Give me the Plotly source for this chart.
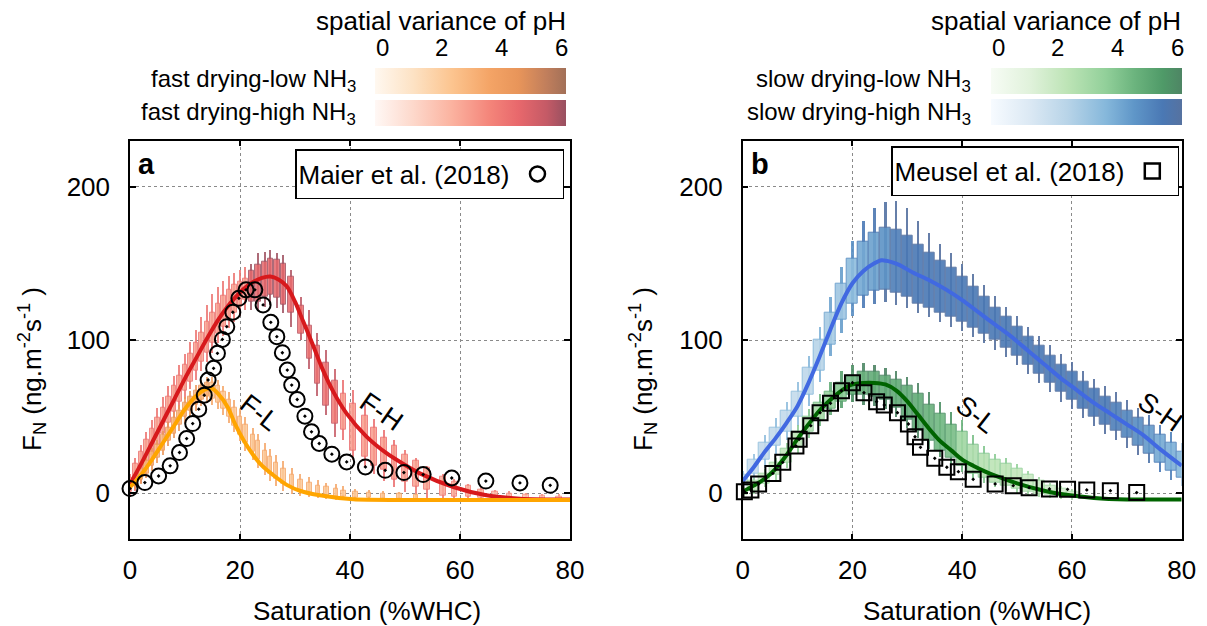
import plotly.graph_objects as go
from plotly.colors import sample_colorscale

W, H = 1207, 626
FONT = "Liberation Sans, Arial, Helvetica, sans-serif"

# ---------------- Panel a : fast drying ----------------
maier_x = [0, 2.7, 5.2, 7.3, 9.0, 10.3, 11.4, 12.5, 13.5, 14.2, 15.2, 15.9, 16.8, 17.6, 18.7, 19.8,
           21.1, 22.7, 24.2, 25.6, 26.7, 27.7, 28.6, 29.4, 30.4, 31.8, 33.0, 34.4, 36.7, 39.4, 42.8,
           46.4, 49.8, 53.3, 58.5, 64.7, 70.9, 76.4]
maier_y = [3.1, 7.0, 11.3, 17.9, 26.6, 35.7, 45.5, 54.9, 64.0, 73.9, 81.5, 91.3, 100.4, 108.7, 118.1,
           127.2, 132.7, 132.7, 122.9, 111.5, 102.2, 91.7, 80.4, 70.6, 61.2, 50.3, 40.1, 32.5, 25.5,
           20.5, 17.2, 15.0, 13.5, 12.2, 10.0, 8.0, 6.8, 5.2]

fh_x = [0, 2, 4, 6, 8, 10, 12, 14, 16, 18, 20, 22, 24, 25.5, 27, 28.5, 30, 31.5, 33, 35, 37, 39.4,
        43, 46.7, 50, 52.7, 58.8, 64.8, 70.9, 80]
fh_y = [6, 19, 33, 47, 61, 75, 88, 101, 113, 123, 131, 137, 140.5, 141.4, 139.5, 135, 125, 112, 99,
        81, 66, 52, 37, 26, 18.5, 13, 4.1, -1.3, -3.5, -4.1]

fl_x = [0, 2, 4, 6, 8, 10, 12, 13.5, 14.8, 16, 17.8, 19, 20.6, 22.4, 24, 26, 28.5, 31, 34.5, 40.6, 50, 80]
fl_y = [4, 12, 22, 33, 44, 55, 63.5, 67.5, 68.5, 65, 56, 46, 35, 25, 18, 12, 5.5, 1.5, -1.3, -3.9, -4.3, -4.3]

# F-H boxes, dense part (low saturation)
fhd_x = [0, 1, 2, 3, 4, 5, 6, 7, 8, 9, 10, 11, 12, 13, 14, 15, 16, 17, 18, 19, 20, 21]
fhd_q1 = [1, 6, 12, 18, 25, 32, 39, 46, 53, 60, 67, 73, 80, 86, 92, 98, 104, 109, 114, 118, 122, 126]
fhd_q3 = [10, 19, 27, 35, 42, 49, 56, 63, 70, 77, 84, 91, 98, 105, 112, 118, 124, 129, 133, 136, 138, 140]
fhd_lo = [-2, 2, 7, 13, 20, 27, 34, 41, 48, 55, 62, 68, 74, 80, 86, 92, 98, 103, 108, 112, 116, 120]
fhd_hi = [13, 23, 32, 40, 48, 56, 63, 70, 77, 84, 91, 99, 107, 115, 123, 130, 135, 139, 142, 144, 146, 148]
fhd_var = [2.8] * 22

# F-H boxes, spaced part
fhs_x = [22.1, 23.3, 24.5, 25.5, 26.7, 27.9, 29.3, 31.1, 32.6, 34.1, 35.6, 37.3, 38.8, 40.5, 42.7,
         44.4, 46.2, 48.1, 50, 52, 54, 56.9, 59, 61.5, 63.8, 66.4, 69, 72, 75, 78]
fhs_q1 = [125, 125, 128, 129.5, 127.3, 122.9, 117.9, 104, 88.1, 71.3, 56.9, 45.1, 41.7, 27.7, 24.2,
          17.7, 15.1, 9, 7.5, 4.1, 2.4, -1.3, -2, -2.4, -2.9, -3.3, -3.5, -3.8, -4, -4]
fhs_q3 = [145, 149, 151, 152.8, 152.3, 149.5, 141, 122.3, 109.2, 96.6, 85.2, 73.5, 64.7, 58.7, 50.4,
          43, 36.4, 30.8, 25.4, 21.5, 16.7, 11.1, 7.4, 4.8, 2.4, 1, 0, -1, -1.8, -2.2]
fhs_lo = [120, 120, 122, 122.9, 121, 118, 108.8, 100, 81.5, 63.4, 51, 36.9, 34.7, 21.6, 17.3, 12.9,
          8.5, 4.2, 1, -2.4, -2.9, -3.5, -4.2, -4.5, -4.5, -4.5, -4.5, -4.5, -4.5, -4.5]
fhs_hi = [150, 156.7, 157.8, 158.9, 156.7, 155.6, 145.8, 128.4, 119.6, 104.8, 93.5, 81.5, 73.9, 67.4,
          58.7, 48.8, 41.2, 34.7, 28.5, 23.3, 18.3, 12.8, 9.6, 6.5, 4, 2.5, 1.5, 0.5, 0, -0.5]
fhs_var = [4.6, 4.6, 4.6, 4.6, 4.6, 4.6, 4.4, 4.2, 4.2, 4.2, 4.2, 4.0, 3.0, 3.0, 3.0, 3.0, 3.0, 3.0,
           2.8, 2.8, 2.8, 2.6, 2.6, 2.4, 2.4, 2.2, 2.2, 2.0, 2.0, 2.0]

# F-L boxes
flb_x = [1, 2, 3, 4, 5, 6, 7, 8, 9, 10, 11, 12, 13, 14, 15, 16, 17, 18, 19, 20, 21, 22.4, 23.3, 24.5,
         25.5, 26.5, 27.9, 29.4, 31, 32.6, 34.2, 35.7, 37.4, 38.8, 41, 43.5, 46, 49, 52]
flb_q1 = [5, 9, 13, 18, 23, 28, 34, 39, 45, 50, 54, 58, 61, 63, 62, 59, 55, 50, 44, 38, 33, 27, 22, 17,
          13, 9.5, 6, 3.5, 1, 0, -1, -1.5, -2, -2.5, -3, -3, -3.5, -3.5, -4]
flb_q3 = [11, 16, 21, 27, 32, 38, 43, 49, 54, 59, 63, 67, 70, 72, 72, 70, 66, 61, 56, 50, 45, 38, 34,
          28, 24, 20, 16, 12, 9, 7, 5, 4, 3, 2, 1, 0.5, 0, -0.5, -1]
flb_lo = [3, 6, 10, 15, 20, 25, 31, 36, 41, 46, 50, 54, 57, 59, 58, 55, 51, 46, 40, 34, 28, 22, 17, 12,
          8, 5, 2, 0, -1.5, -2.5, -3, -3.5, -4, -4, -4.5, -4.5, -4.5, -4.5, -4.5]
flb_hi = [13, 18, 24, 30, 35, 41, 47, 53, 58, 63, 67, 71, 74, 76, 76, 74, 70, 66, 61, 55, 50, 43, 39,
          33, 29, 25, 21, 17, 13, 11, 9, 7, 6, 5, 3, 2.5, 1.5, 1, 0]
flb_var = [3.0] * 14 + [2.2] * 25

# ---------------- Panel b : slow drying ----------------
meusel_x = [0.3, 1.5, 2.9, 5.5, 7.3, 9.7, 10.3, 12.4, 14.1, 16.0, 18.0, 20.0, 22.1, 24.4, 25.8, 28.2,
            30.2, 31.4, 32.4, 35.0, 37.2, 39.3, 42.0, 46.0, 49.3, 52.2, 55.9, 59.2, 62.7, 67.0, 71.8]
meusel_y = [1.0, 2.2, 6.1, 13.0, 20.2, 30.9, 35.2, 44.1, 52.6, 58.7, 66.9, 72.1, 65.6, 59.8, 57.6, 52.6,
            45.2, 36.9, 30.0, 22.8, 17.0, 14.1, 9.1, 6.1, 5.0, 3.7, 2.8, 2.6, 2.2, 1.7, 0.5]

sh_x = [0, 2, 4, 6, 8, 10, 12, 14, 16, 18, 20, 22, 24, 25.3, 27, 28.5, 31, 34, 37, 40, 43, 46, 49, 52,
        55, 58, 61, 64, 67, 70, 73, 76, 80]
sh_y = [8, 17, 27, 36, 46, 57, 72, 89, 107, 124, 137, 145, 150, 152, 151, 149, 144, 139, 133, 126, 118,
        110, 102, 93, 84, 75, 67, 59, 52, 45, 38, 29, 18]

sl_x = [0, 2, 4, 6, 8, 10, 12, 14, 16, 18, 20, 22, 24, 26, 28, 30, 32, 34, 36, 38, 40, 42, 44, 46, 50,
        54, 58, 64, 70, 80]
sl_y = [1, 5, 9.5, 16, 25, 35.5, 45, 54, 61, 67, 71, 72, 72, 71, 67, 60, 51, 42, 34, 28, 22, 18, 14.5,
        11.5, 6.5, 2.5, -0.5, -3, -4, -4]

shb_x = [0, 2, 4, 6, 8, 10, 12, 14, 16, 18, 20, 22, 24, 26, 28, 30, 32, 34, 36, 38, 40, 42, 44, 46, 48,
         50, 52, 54, 56, 58, 60, 62, 64, 66, 68, 70, 72, 74, 76, 78, 80]
shb_q1 = [5, 13, 22, 31, 40, 50, 64, 80, 97, 113, 124, 129, 132, 133, 131, 128, 124, 121, 118, 115, 112,
          108, 104, 100, 95, 90, 84, 78, 72, 66, 61, 55, 50, 45, 41, 36, 31, 26, 20, 15, 10]
shb_q3 = [12, 22, 33, 43, 54, 66, 82, 100, 118, 137, 153, 164, 170, 173, 172, 168, 162, 157, 152, 147,
          141, 135, 128, 121, 115, 109, 102, 96, 90, 84, 79, 73, 68, 63, 59, 54, 49, 44, 38, 33, 27]
shb_lo = [2, 9, 17, 26, 35, 44, 57, 73, 90, 105, 116, 121, 124, 125, 123, 121, 118, 115, 112, 109, 106,
          102, 98, 94, 89, 84, 78, 72, 66, 60, 55, 49, 44, 39, 35, 30, 25, 20, 14, 9, 5]
shb_hi = [15, 26, 38, 49, 60, 73, 90, 109, 128, 148, 165, 178, 186, 190, 191, 186, 178, 170, 163, 157,
          150, 143, 136, 129, 122, 116, 109, 103, 97, 91, 86, 80, 75, 70, 66, 61, 56, 51, 45, 40, 33]
shb_var = [1.8, 1.8, 2, 2, 2, 2, 2.2, 2.4, 2.8, 3, 3.4, 4, 4.2, 4.6, 5.2, 5.4, 5.4, 5.4, 5.4, 5.4, 5.4,
           5.4, 5.4, 5.4, 5.4, 5.4, 5.4, 5.4, 5.4, 5.4, 5.4, 5.4, 5.4, 5.4, 5.2, 5, 4.8, 4.4, 4, 3.8, 3.6]

slb_x = [0, 2, 4, 6, 8, 10, 12, 14, 16, 18, 20, 22, 24, 26, 28, 30, 32, 34, 36, 38, 40, 42, 44, 46, 48,
         50, 52, 54, 56, 58, 60]
slb_q1 = [-1, 2, 6, 12, 20, 30, 40, 48, 55, 60, 64, 64, 63, 61, 56, 48, 41, 34, 28, 23, 18, 13, 10, 7,
          5, 3, 1, 0, -1, -2, -2.5]
slb_q3 = [3, 8, 13, 20, 29, 40, 50, 59, 66, 72, 77, 79, 79, 77, 74, 70, 65, 58, 52, 45, 40, 32, 26, 22,
          19, 16, 12, 8, 5, 3, 1]
slb_lo = [-2, 0, 4, 9, 17, 26, 36, 44, 51, 56, 60, 58, 57, 55, 50, 43, 36, 29, 24, 19, 14, 10, 7, 4, 2,
          0, -1, -2, -3, -3.5, -4]
slb_hi = [5, 10, 16, 23, 33, 45, 55, 65, 73, 80, 84, 85, 84, 82, 80, 76, 72, 66, 60, 53, 48, 38, 31, 26,
          23, 19, 15, 11, 7, 5, 3]
slb_var = [1.8, 2, 2, 2, 2.2, 2.4, 2.6, 3, 3.4, 3.8, 4.4, 4.6, 4.8, 4.8, 4.8, 4.8, 4.8, 4.6, 4.4, 4.2,
           3.2, 2.8, 2.6, 2.4, 2.4, 2.2, 2, 1.8, 1.8, 1.6, 1.6]

cbar_ticks = [0, 2, 4, 6]

# ---------------- colour scales ----------------
SC_FL = [[0, "#fff8f0"], [0.2, "#fde2c4"], [0.4, "#fcc590"], [0.6, "#f4a466"], [0.75, "#e8955a"],
         [0.9, "#c07e5c"], [1, "#a27058"]]
SC_FH = [[0, "#fff8f5"], [0.2, "#fdd8cb"], [0.4, "#fbb3a0"], [0.6, "#f4857a"], [0.75, "#e8686c"],
         [0.9, "#c45a66"], [1, "#985060"]]
SC_SL = [[0, "#f7fcf5"], [0.2, "#e1f2dc"], [0.4, "#bde4b6"], [0.6, "#92d09a"], [0.75, "#6cb47e"],
         [0.9, "#4f9a68"], [1, "#4e8564"]]
SC_SH = [[0, "#f7fbff"], [0.2, "#dce9f4"], [0.4, "#b8d4e8"], [0.6, "#86b8db"], [0.75, "#5f96c8"],
         [0.9, "#4a78b4"], [1, "#5672a0"]]


def px(v):
    return v / W


def py(v):
    return 1 - v / H


def cbar(x0, ytop):
    return dict(orientation="h", xref="container", yref="container", x=px(x0), xanchor="left",
                y=py(ytop), yanchor="top", len=191, lenmode="pixels", thickness=26,
                thicknessmode="pixels", outlinewidth=0, showticklabels=False, ticks="",
                xpad=0, ypad=0)


fig = go.Figure()


def add_boxes(x, q1, q3, lo, hi, var, scale, xa, ya, box_w, wh_w, cb=None, op=0.85):
    edge = sample_colorscale(scale, [min(1.0, (v + 1.3) / 6.0) for v in var])
    fig.add_trace(go.Bar(x=x, base=lo, y=[h - l for h, l in zip(hi, lo)], width=wh_w,
                         marker=dict(color=edge, line=dict(width=0)), opacity=op,
                         xaxis=xa, yaxis=ya, showlegend=False, hoverinfo="skip"))
    mk = dict(color=var, colorscale=scale, cmin=0, cmax=6, showscale=cb is not None,
              line=dict(color=edge, width=1))
    if cb is not None:
        mk["colorbar"] = cb
    fig.add_trace(go.Bar(x=x, base=q1, y=[b - a for a, b in zip(q1, q3)], width=box_w,
                         marker=mk, opacity=op, xaxis=xa, yaxis=ya, showlegend=False,
                         hoverinfo="skip"))


# panel a boxes
add_boxes(fhd_x, fhd_q1, fhd_q3, fhd_lo, fhd_hi, fhd_var, SC_FH, "x", "y", 0.9, 0.25)
add_boxes(fhs_x, fhs_q1, fhs_q3, fhs_lo, fhs_hi, fhs_var, SC_FH, "x", "y", 1.0, 0.25, cb=cbar(375, 100))
add_boxes(flb_x, flb_q1, flb_q3, flb_lo, flb_hi, flb_var, SC_FL, "x", "y", 0.8, 0.25, cb=cbar(375, 68))

# panel b boxes
add_boxes(shb_x, shb_q1, shb_q3, shb_lo, shb_hi, shb_var, SC_SH, "x2", "y2", 2.0, 0.3, cb=cbar(991, 99), op=0.9)
add_boxes(slb_x, slb_q1, slb_q3, slb_lo, slb_hi, slb_var, SC_SL, "x2", "y2", 2.0, 0.3, cb=cbar(991, 68), op=0.9)

# lines
fig.add_trace(go.Scatter(x=fh_x, y=fh_y, mode="lines", line=dict(color="#d7191c", width=4, shape="spline", smoothing=0.8),
                         xaxis="x", yaxis="y", showlegend=False, hoverinfo="skip"))
fig.add_trace(go.Scatter(x=fl_x, y=fl_y, mode="lines", line=dict(color="#ffa500", width=4, shape="spline", smoothing=0.8),
                         xaxis="x", yaxis="y", showlegend=False, hoverinfo="skip"))
fig.add_trace(go.Scatter(x=sh_x, y=sh_y, mode="lines", line=dict(color="#4169e1", width=4, shape="spline", smoothing=0.8),
                         xaxis="x2", yaxis="y2", showlegend=False, hoverinfo="skip"))
fig.add_trace(go.Scatter(x=sl_x, y=sl_y, mode="lines", line=dict(color="#006400", width=4, shape="spline", smoothing=0.8),
                         xaxis="x2", yaxis="y2", showlegend=False, hoverinfo="skip"))

# observations
fig.add_trace(go.Scatter(x=maier_x, y=maier_y, mode="markers", showlegend=False,
                         marker=dict(symbol="circle-open-dot", size=15, color="black", line=dict(width=2, color="black")),
                         xaxis="x", yaxis="y", cliponaxis=False, hoverinfo="skip"))
fig.add_trace(go.Scatter(x=meusel_x, y=meusel_y, mode="markers", showlegend=False,
                         marker=dict(symbol="square-open-dot", size=15, color="black", line=dict(width=2, color="black")),
                         xaxis="x2", yaxis="y2", cliponaxis=False, hoverinfo="skip"))
# legend entries (symbols only)
fig.add_trace(go.Scatter(x=[None], y=[None], mode="markers", name="", legend="legend",
                         marker=dict(symbol="circle-open", size=15, color="black", line=dict(width=2.5, color="black")),
                         xaxis="x", yaxis="y"))
fig.add_trace(go.Scatter(x=[None], y=[None], mode="markers", name="", legend="legend2",
                         marker=dict(symbol="square-open", size=15, color="black", line=dict(width=2.5, color="black")),
                         xaxis="x2", yaxis="y2"))

axis_common = dict(showline=True, linecolor="black", linewidth=1.5, mirror="ticks", ticks="inside",
                   ticklen=6, tickwidth=1.5, tickcolor="black", showgrid=True, gridcolor="#8a8a8a",
                   griddash="dot", gridwidth=1, zeroline=False,
                   tickfont=dict(size=26, color="black", family=FONT))

ydom = [py(539.3), py(140.7)]
fig.update_layout(
    xaxis=dict(domain=[px(130), px(570)], range=[0, 80], tickvals=[0, 20, 40, 60, 80], anchor="y",
               ticklabelstandoff=7, **axis_common),
    yaxis=dict(domain=ydom, range=[-30, 230], tickvals=[0, 100, 200], anchor="x",
               ticklabelstandoff=13, **axis_common),
    xaxis2=dict(domain=[px(742.7), px(1181.7)], range=[0, 80], tickvals=[0, 20, 40, 60, 80], anchor="y2",
                ticklabelstandoff=7, **axis_common),
    yaxis2=dict(domain=ydom, range=[-30, 230], tickvals=[0, 100, 200], anchor="x2",
                ticklabelstandoff=13, **axis_common),
    barmode="overlay",
    bargap=0,
    width=W, height=H,
    margin=dict(l=0, r=0, t=0, b=0, autoexpand=False),
    plot_bgcolor="white", paper_bgcolor="white",
    font=dict(family=FONT, color="black", size=26),
    legend=dict(x=px(295), y=py(149), xanchor="left", yanchor="top", bgcolor="white",
                bordercolor="black", borderwidth=1.5, font=dict(size=26),
                title=dict(text="Maier et al. (2018)", side="left", font=dict(size=26))),
    legend2=dict(x=px(891), y=py(146), xanchor="left", yanchor="top", bgcolor="white",
                 bordercolor="black", borderwidth=1.5, font=dict(size=26),
                 title=dict(text="Meusel et al. (2018)", side="left", font=dict(size=26))),
)

ann = []
# colorbar headers, ticks and labels
for right, x0 in [(568, 375), (1183, 991)]:
    ann.append(dict(text="spatial variance of pH", x=px(right), y=py(21), xanchor="right", yanchor="middle",
                    font=dict(size=26)))
    for v in cbar_ticks:
        ann.append(dict(text=str(v), x=px(x0 + 7 + v / 6 * 179), y=py(47), xanchor="center", yanchor="middle",
                        font=dict(size=24)))
for txt, xr, yc in [("fast drying-low NH<sub>3</sub>", 358, 81), ("fast drying-high NH<sub>3</sub>", 358, 113),
                    ("slow drying-low NH<sub>3</sub>", 973, 81), ("slow drying-high NH<sub>3</sub>", 973, 113)]:
    ann.append(dict(text=txt, x=px(xr), y=py(yc), xanchor="right", yanchor="middle", font=dict(size=24)))
# panel letters
ann.append(dict(text="<b>a</b>", x=px(136), y=py(164), xanchor="left", yanchor="middle", font=dict(size=29)))
ann.append(dict(text="<b>b</b>", x=px(749), y=py(164), xanchor="left", yanchor="middle", font=dict(size=29)))
# axis titles
for xc in (367, 977):
    ann.append(dict(text="Saturation (%WHC)", x=px(xc), y=py(611), xanchor="center", yanchor="middle",
                    font=dict(size=26)))
for xc in (32, 643):
    ann.append(dict(text="F<sub>N</sub> (ng.m<sup>-2</sup>s<sup>-1</sup> )", x=px(xc), y=py(369),
                    xanchor="center", yanchor="middle", textangle=-90, font=dict(size=26)))
for a in ann:
    a.update(xref="paper", yref="paper", showarrow=False)

# curve labels (data coordinates)
for txt, xa, ya, xv, yv, ang in [("F-L", "x", "y", 23.6, 52.2, 38), ("F-H", "x", "y", 45.8, 53.2, 35),
                                 ("S-L", "x2", "y2", 42.6, 51.1, 38), ("S-H", "x2", "y2", 76.1, 53.2, 35)]:
    ann.append(dict(text=txt, x=xv, y=yv, xref=xa, yref=ya, showarrow=False, textangle=ang,
                    font=dict(size=27), xanchor="center", yanchor="middle"))

fig.update_layout(annotations=ann)
fig.write_html("out.html")
